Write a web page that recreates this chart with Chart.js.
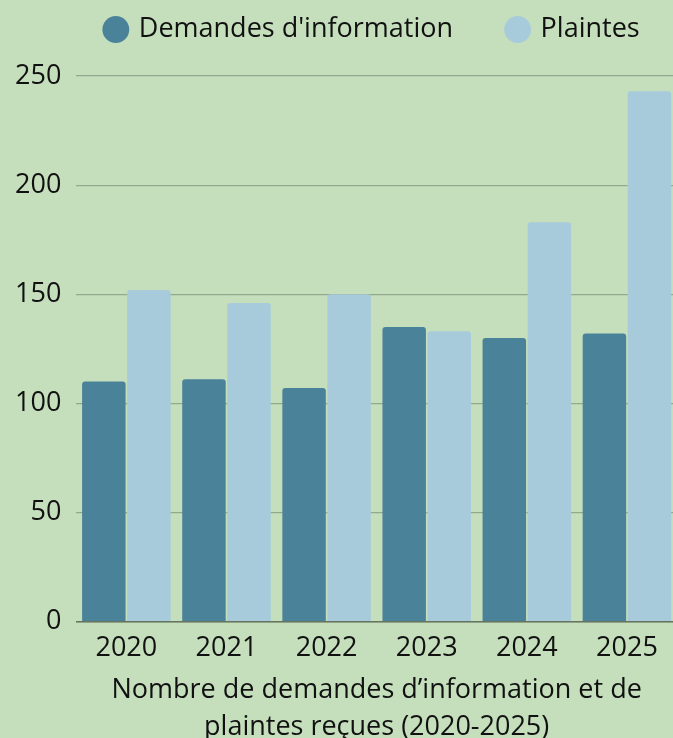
<html><head><meta charset="utf-8">
<script src="https://cdn.jsdelivr.net/npm/chart.js@4.4.0/dist/chart.umd.min.js"></script>
<style>
 body{margin:0;background:#c5dfbc;overflow:hidden;}
 #wrap{position:relative;width:742px;height:738px;}
</style>
</head>
<body>
<div id="wrap"><canvas id="myChart"></canvas></div>
<script>
var years = ['2020', '2021', '2022', '2023', '2024', '2025'];
var demandes = [110, 111, 107, 135, 130, 132];
var plaintes = [152, 146, 150, 133, 183, 243];
var yTicks = [0, 50, 100, 150, 200, 250];
var axisTitle = ['Nombre de demandes d\u2019information et de', 'plaintes re\u00e7ues (2020-2025)'];

Chart.defaults.font.family = '"Open Sans", sans-serif';
Chart.defaults.font.size = 27;
Chart.defaults.color = '#111';

// extra room under the legend, and centre it a bit to the right
var legendRoom = {
  id: 'legendRoom',
  beforeInit: function (chart) {
    var fit = chart.legend.fit;
    chart.legend.fit = function () {
      fit.call(this);
      this.height += 23;
    };
  },
  afterLayout: function (chart) {
    var mid = 373;
    chart.legend.left = mid - 330;
    chart.legend.right = mid + 330;
  }
};

var ctx = document.getElementById('myChart');
var myChart = new Chart(ctx, {
  type: 'bar',
  data: {
    labels: years,
    datasets: [{
      label: "Demandes d'information",
      backgroundColor: '#4a8299',
      data: demandes,
      borderRadius: 3
    }, {
      label: 'Plaintes',
      backgroundColor: '#a7cbdb',
      data: plaintes,
      borderRadius: 3
    }]
  },
  plugins: [legendRoom],
  options: {
    responsive: true,
    maintainAspectRatio: false,
    animation: false,
    layout: { padding: { left: 0, right: 65, top: -39, bottom: -8 } },
    datasets: { bar: { categoryPercentage: 0.9, barPercentage: 0.965 } },
    plugins: {
      tooltip: { enabled: false },
      legend: {
        position: 'top',
        labels: { usePointStyle: true, pointStyle: 'circle', boxWidth: 19, boxHeight: 19, padding: 55 }
      }
    },
    scales: {
      x: {
        grid: { display: false },
        border: { display: true, color: '#66755f', width: 1.5 },
        ticks: { padding: 2 },
        title: { display: true, text: axisTitle, padding: { top: 6, bottom: 0 }, font: { lineHeight: 1.37 } }
      },
      y: {
        min: yTicks[0],
        max: yTicks[yTicks.length - 1],
        border: { display: false },
        grid: { color: '#93a98d', drawTicks: false, lineWidth: 1.2 },
        afterBuildTicks: function (axis) { axis.ticks = yTicks.map(function (v) { return { value: v }; }); },
        ticks: { padding: 15 }
      }
    }
  }
});
</script>
</body></html>
